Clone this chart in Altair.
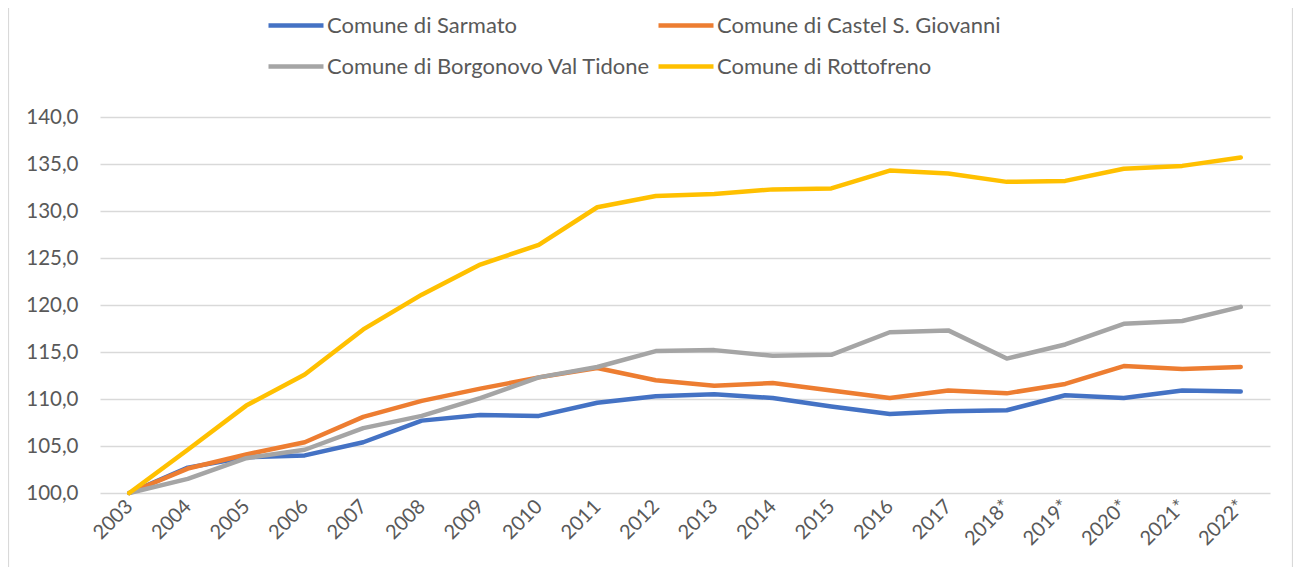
import altair as alt
import pandas as pd

years = ["2003", "2004", "2005", "2006", "2007", "2008", "2009", "2010", "2011", "2012",
         "2013", "2014", "2015", "2016", "2017", "2018*", "2019*", "2020*", "2021*", "2022*"]

series_names = ["Comune di Sarmato", "Comune di Castel S. Giovanni",
                "Comune di Borgonovo Val Tidone", "Comune di Rottofreno"]

sarmato = [100.0, 102.7, 103.8, 104.0, 105.4, 107.7, 108.3, 108.2, 109.6, 110.3,
           110.5, 110.1, 109.2, 108.4, 108.7, 108.8, 110.4, 110.1, 110.9, 110.8]
castel = [100.0, 102.6, 104.1, 105.4, 108.1, 109.8, 111.1, 112.3, 113.3, 112.0,
          111.4, 111.7, 110.9, 110.1, 110.9, 110.6, 111.6, 113.5, 113.2, 113.4]
borgonovo = [100.0, 101.5, 103.7, 104.6, 106.9, 108.2, 110.1, 112.3, 113.4, 115.1,
             115.2, 114.6, 114.7, 117.1, 117.3, 114.3, 115.8, 118.0, 118.3, 119.8]
rottofreno = [100.0, 104.6, 109.3, 112.6, 117.4, 121.1, 124.3, 126.4, 130.4, 131.6,
              131.8, 132.3, 132.4, 134.3, 134.0, 133.1, 133.2, 134.5, 134.8, 135.7]

colors = ["#4472C4", "#ED7D31", "#A5A5A5", "#FFC000"]
y_ticks = [100, 105, 110, 115, 120, 125, 130, 135, 140]

rows = []
for name, vals in zip(series_names, [sarmato, castel, borgonovo, rottofreno]):
    for yr, v in zip(years, vals):
        rows.append({"anno": yr, "valore": v, "comune": name})
df = pd.DataFrame(rows)

FONT = "Lato"
TXT = "#595959"

lines = alt.Chart(df).mark_line(strokeWidth=4.5, strokeCap="round", strokeJoin="round").encode(
    x=alt.X("anno:N", sort=years, title=None,
            scale=alt.Scale(type="point", padding=0.5),
            axis=alt.Axis(labelAngle=-45, labelAlign="right", labelBaseline="middle",
                          labelPadding=10, ticks=False, domain=False, grid=False,
                          labelFontSize=20, labelColor=TXT, labelFont=FONT)),
    y=alt.Y("valore:Q", title=None,
            scale=alt.Scale(domain=[100, 140], nice=False, zero=False),
            axis=alt.Axis(values=y_ticks, labelExpr="replace(format(datum.value, '.1f'), '.', ',')",
                          ticks=False, domain=False, grid=True, gridColor="#d9d9d9",
                          gridWidth=1.3, labelPadding=22, labelFontSize=20.5,
                          labelColor=TXT, labelFont=FONT)),
    color=alt.Color("comune:N", sort=series_names,
                    scale=alt.Scale(domain=series_names, range=colors),
                    legend=alt.Legend(title=None, orient="none", legendX=166, legendY=-121.5,
                                      direction="horizontal",
                                      columns=2, symbolType="stroke", symbolSize=3025,
                                      symbolStrokeWidth=4.5, labelFontSize=22,
                                      labelFont=FONT, labelColor=TXT, labelOffset=1,
                                      columnPadding=-2, rowPadding=-9, labelLimit=500)),
    order=alt.Order("comune:N")
)

border = alt.Chart(pd.DataFrame({"k": [0]})).mark_rule(color="#d9d9d9", strokeWidth=1.2).encode(
    x=alt.value(-91.5), y=alt.value(-109), y2=alt.value(450)
)
border2 = alt.Chart(pd.DataFrame({"k": [0]})).mark_rule(color="#d9d9d9", strokeWidth=1.2).encode(
    x=alt.value(1192.5), y=alt.value(-109), y2=alt.value(450)
)

chart = alt.layer(border, border2, lines).properties(
    width=1170, height=376,
    autosize=alt.AutoSizeParams(type="none"),
    padding={"left": 92, "top": 109, "right": 23, "bottom": 74},
    background="white"
).configure_view(stroke=None)

chart.save("out.html", embed_options={"renderer": "svg", "actions": False})
